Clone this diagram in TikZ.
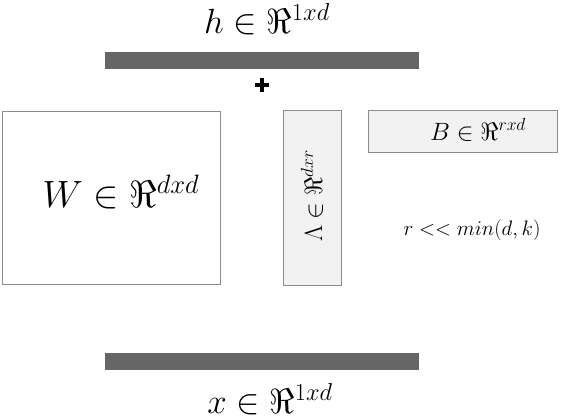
\RequirePackage{fix-cm}
\documentclass[tikz,border=0pt]{standalone}
\begin{document}
\begin{tikzpicture}[x = 1pt, y = -1pt,
  bar/.style = {fill = bargray, draw = bargray},
  matbox/.style = {draw = boxgray, line width = 1pt},
  biglabel/.style = {font = \fontsize{35}{42}\selectfont, anchor = base, inner sep = 1pt},
  smalllabel/.style = {font = \fontsize{25}{30}\selectfont, inner sep = 1pt}]
\definecolor{bargray}{RGB}{102,102,102}
\definecolor{boxgray}{RGB}{140,140,140}
\definecolor{lightfill}{RGB}{242,242,242}
\useasboundingbox (0,0) rectangle (588,416);
% output and input vectors
\draw [bar] (105,52) rectangle (418,68);
\draw [bar] (105,353) rectangle (418,369);
\node[biglabel] (hlabel) at (267,33) {$h \in \Re^{1xd}$};
\node[biglabel] (xlabel) at (270,413) {$x \in \Re^{1xd}$};
% plus
\draw [line width = 4pt] (255,85) -- (269,85);
\draw [line width = 4pt] (262,78) -- (262,92);
% full matrix
\draw [matbox, fill = white] (2,111) rectangle (220,284);
\node[biglabel, font = \fontsize{38}{45}\selectfont] (wlabel) at (121,207) {$W \in \Re^{dxd}$};
% low rank part
\draw [matbox, fill = lightfill] (283,110) rectangle (341,285);
\node[smalllabel, rotate = 90] (lamlabel) at (312,196) {$\Lambda \in \Re^{dxr}$};
\draw [matbox, fill = lightfill] (368,110) rectangle (557,152);
\node[smalllabel, anchor = base] (blabel) at (478,140) {$B \in \Re^{rxd}$};
\node[smalllabel, anchor = base, font = \fontsize{21}{25}\selectfont] (rlabel) at (472,235) {$r << min(d,k)$};
\end{tikzpicture}
\end{document}
